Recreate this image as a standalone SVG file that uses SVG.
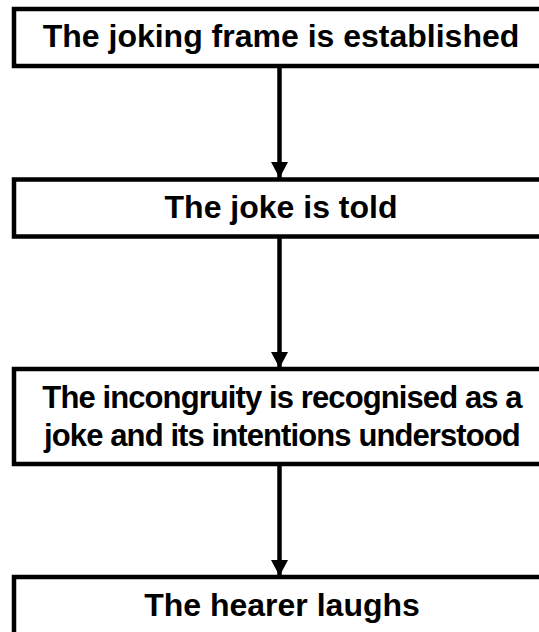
<svg xmlns="http://www.w3.org/2000/svg" width="539" height="632" viewBox="0 0 539 632">
  <style>
    .box { fill: #ffffff; stroke: #000000; stroke-width: 4.5; }
    .label { font-family: "Liberation Sans", Arial, sans-serif; font-weight: bold; font-size: 32px; fill: #000000; text-anchor: middle; }
    .tight { font-size: 31px; letter-spacing: -0.9px; }
    .link { stroke: #000000; stroke-width: 4.5; fill: none; }
  </style>
  <defs>
    <marker id="arrow" markerUnits="userSpaceOnUse" markerWidth="18" markerHeight="18" refX="16" refY="8.5" orient="auto">
      <path d="M0,0 L16,8.5 L0,17 Z" fill="#000000"/>
    </marker>
  </defs>
  <rect width="539" height="632" fill="#ffffff"/>

  <g id="connectors">
    <line class="link" x1="279.5" y1="66" x2="279.5" y2="178" marker-end="url(#arrow)"/>
    <line class="link" x1="279.5" y1="237" x2="279.5" y2="368" marker-end="url(#arrow)"/>
    <line class="link" x1="279.5" y1="464" x2="279.5" y2="576" marker-end="url(#arrow)"/>
  </g>

  <g id="frame">
    <rect class="box" x="14" y="9" width="532" height="57"/>
    <text class="label" x="281" y="46.5">The joking frame is established</text>
  </g>

  <g id="told">
    <rect class="box" x="14" y="179.5" width="532" height="57"/>
    <text class="label" x="281" y="217.5">The joke is told</text>
  </g>

  <g id="recognised">
    <rect class="box" x="14" y="369" width="532" height="95"/>
    <text class="label tight" x="282" y="408">The incongruity is recognised as a</text>
    <text class="label tight" x="282" y="446">joke and its intentions understood</text>
  </g>

  <g id="laughs">
    <rect class="box" x="14" y="577" width="532" height="60"/>
    <text class="label" x="282" y="615.5">The hearer laughs</text>
  </g>
</svg>
